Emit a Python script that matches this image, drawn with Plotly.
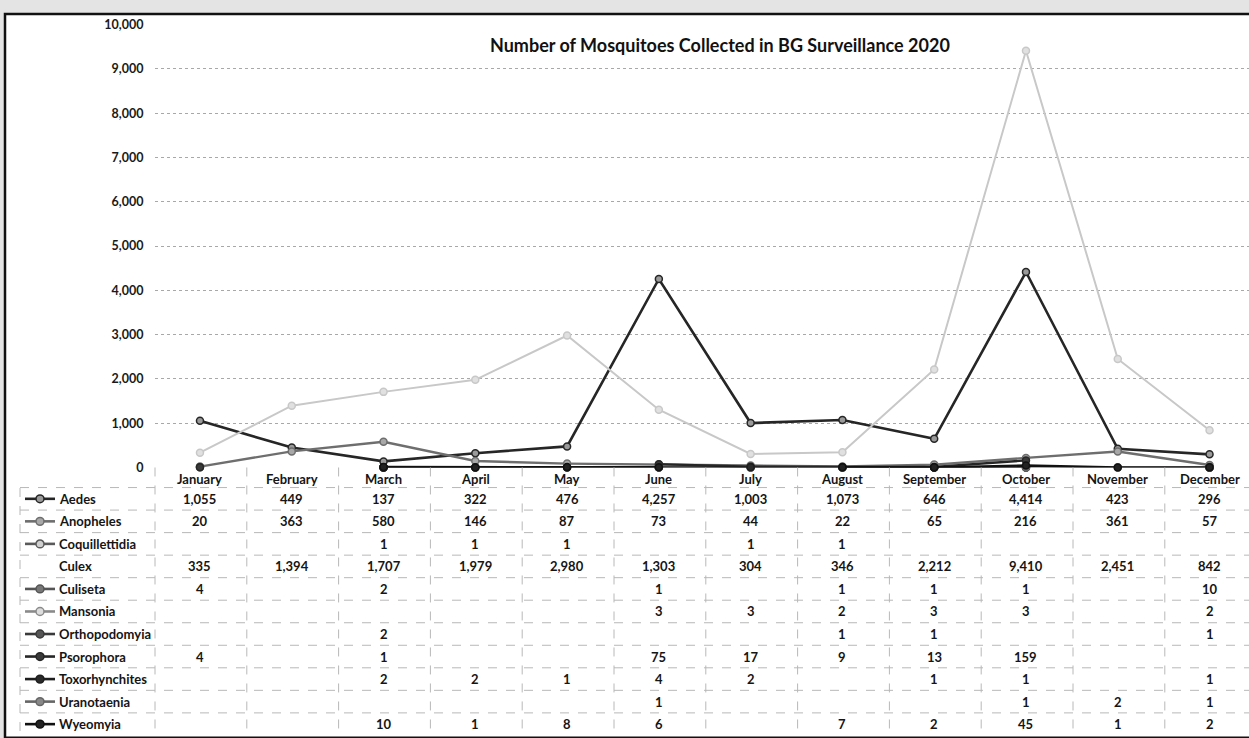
import plotly.graph_objects as go

# ---------------- data ----------------
months = ["January", "February", "March", "April", "May", "June", "July",
          "August", "September", "October", "November", "December"]
species = ["Aedes", "Anopheles", "Coquillettidia", "Culex", "Culiseta", "Mansonia",
           "Orthopodomyia", "Psorophora", "Toxorhynchites", "Uranotaenia", "Wyeomyia"]

aedes = [1055, 449, 137, 322, 476, 4257, 1003, 1073, 646, 4414, 423, 296]
anopheles = [20, 363, 580, 146, 87, 73, 44, 22, 65, 216, 361, 57]
coquillettidia = [None, None, 1, 1, 1, None, 1, 1, None, None, None, None]
culex = [335, 1394, 1707, 1979, 2980, 1303, 304, 346, 2212, 9410, 2451, 842]
culiseta = [4, None, 2, None, None, 1, None, 1, 1, 1, None, 10]
mansonia = [None, None, None, None, None, 3, 3, 2, 3, 3, None, 2]
orthopodomyia = [None, None, 2, None, None, None, None, 1, 1, None, None, 1]
psorophora = [4, None, 1, None, None, 75, 17, 9, 13, 159, None, None]
toxorhynchites = [None, None, 2, 2, 1, 4, 2, None, 1, 1, None, 1]
uranotaenia = [None, None, None, None, None, 1, None, None, None, 1, 2, 1]
wyeomyia = [None, None, 10, 1, 8, 6, None, 7, 2, 45, 1, 2]

series = [aedes, anopheles, coquillettidia, culex, culiseta, mansonia,
          orthopodomyia, psorophora, toxorhynchites, uranotaenia, wyeomyia]

y_ticks = [0, 1000, 2000, 3000, 4000, 5000, 6000, 7000, 8000, 9000, 10000]
title = "Number of Mosquitoes Collected in BG Surveillance 2020"

# ---------------- styles ----------------
line_colors = ["#262626", "#6e6e6e", "#5a5a5a", "#c8c8c8", "#555555", "#8a8a8a",
               "#3a3a3a", "#262626", "#1e1e1e", "#666666", "#111111"]
fill_colors = ["#9a9a9a", "#a8a8a8", "#cfcfcf", "#e0e0e0", "#777777", "#dddddd",
               "#555555", "#3a3a3a", "#2a2a2a", "#888888", "#222222"]
line_widths = [2.6, 2.4, 2, 2, 2, 2, 2, 2.4, 2.4, 2, 2.4]
show_key = [True, True, True, False, True, True, True, True, True, True, True]

W, H = 1249, 738
FONT = "Lato"
TXT = dict(family=FONT, size=13, color="#151515", weight="bold")
def px(x):
    return x / W
def py(y):
    return 1 - y / H

fig = go.Figure()

for name, vals, lc, fc, lw in zip(species, series, line_colors, fill_colors, line_widths):
    fig.add_trace(go.Scatter(
        x=months, y=vals, name=name, mode="lines+markers", connectgaps=False,
        line=dict(color=lc, width=lw),
        marker=dict(symbol="circle", size=7, color=fc, line=dict(color=lc, width=1.5)),
        showlegend=False, cliponaxis=False,
    ))

shapes = []
# page background / frame
shapes.append(dict(type="rect", xref="paper", yref="paper", layer="below",
                   x0=px(5), x1=px(1260), y0=py(745), y1=py(6),
                   fillcolor="white", line=dict(color="#111", width=2.5)))

# table grid
grid_col = "#b8b8b8"
row0 = 501
dy = 23
for k in range(11):
    yy = row0 - dy / 2 + dy * k
    shapes.append(dict(type="line", xref="paper", yref="paper",
                       x0=px(20), x1=px(W), y0=py(yy), y1=py(yy),
                       line=dict(color=grid_col, width=1, dash="dash")))
x_left = 155
col_w = 91.8
for k in range(13):
    xx = x_left + col_w * k
    shapes.append(dict(type="line", xref="paper", yref="paper",
                       x0=px(xx), x1=px(xx), y0=py(469), y1=py(H),
                       line=dict(color=grid_col, width=1, dash="dash")))
shapes.append(dict(type="line", xref="paper", yref="paper",
                   x0=px(20), x1=px(20), y0=py(490), y1=py(H),
                   line=dict(color=grid_col, width=1, dash="dash")))

annotations = []
annotations.append(dict(text=title, x=px(720), y=py(38), xref="paper", yref="paper",
                        xanchor="center", yanchor="middle", showarrow=False,
                        font=dict(family=FONT, size=18, color="#111", weight="bold")))

for m in months:
    annotations.append(dict(text=m, x=m, xref="x", y=py(481), yref="paper",
                            xanchor="center", yanchor="middle", showarrow=False, font=TXT))

r = 4
for i, (name, vals, lc, fc, sk) in enumerate(zip(species, series, line_colors, fill_colors, show_key)):
    yrow = row0 + dy * i
    annotations.append(dict(text=name, x=px(57), xanchor="left", y=py(yrow), yanchor="middle",
                            yref="paper", xref="paper", showarrow=False, font=TXT))
    if sk:
        shapes.append(dict(type="line", xref="paper", yref="paper",
                           x0=px(25), x1=px(55), y0=py(yrow), y1=py(yrow),
                           line=dict(color=lc, width=2.6)))
        shapes.append(dict(type="circle", xref="paper", yref="paper",
                           x0=px(40 - r), x1=px(40 + r), y0=py(yrow + r), y1=py(yrow - r),
                           fillcolor=fc, line=dict(color=lc, width=1.5)))
    for m, v in zip(months, vals):
        if v is None:
            continue
        annotations.append(dict(text=f"{v:,}", x=m, xref="x", y=py(yrow), yref="paper",
                                xanchor="center", yanchor="middle", showarrow=False, font=TXT))

fig.update_layout(
    width=W, height=H,
    margin=dict(l=0, r=0, t=0, b=0),
    paper_bgcolor="#e4e4e4",
    plot_bgcolor="rgba(0,0,0,0)",
    xaxis=dict(type="category", categoryorder="array", categoryarray=months,
               domain=[px(155), 1], range=[-0.49, 11.43],
               showticklabels=False, showgrid=False, zeroline=False, showline=False),
    yaxis=dict(domain=[py(469), py(17)], range=[0, 10000], tickvals=y_ticks,
               tickformat=",", showgrid=True, gridcolor="#a8a8a8", griddash="dot",
               gridwidth=1, zeroline=False, showline=False,
               ticks="outside", ticklen=8, tickcolor="rgba(0,0,0,0)",
               tickfont=dict(family=FONT, size=12.5, color="#1a1a1a", weight="bold")),
    shapes=shapes,
    annotations=annotations,
)

fig.write_html("out.html", config={"displayModeBar": False},
               post_script="document.body.style.margin='0';document.body.style.overflow='hidden';")
